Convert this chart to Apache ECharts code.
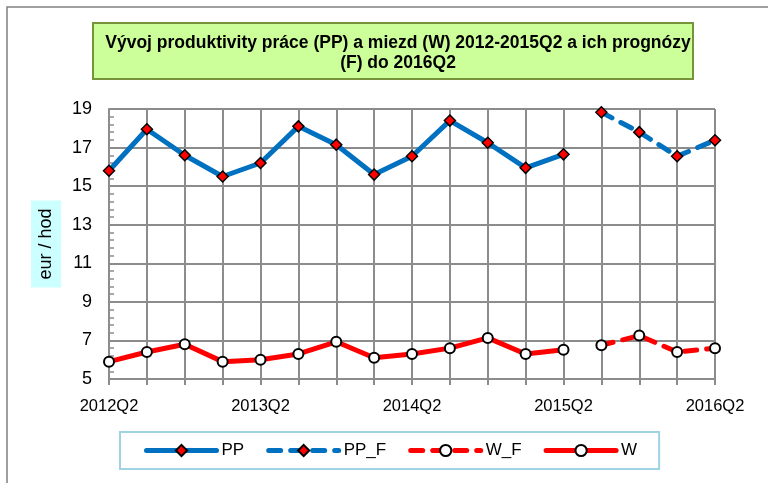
<!DOCTYPE html>
<html>
<head>
<meta charset="utf-8">
<script src="https://cdn.jsdelivr.net/npm/echarts@6/dist/echarts.min.js"></script>
<style>
html,body{margin:0;padding:0;background:#fff;}
#c{width:768px;height:483px;}
</style>
</head>
<body>
<div id="c"></div>
<script>
const categories = ['2012Q2','2012Q3','2012Q4','2013Q1','2013Q2','2013Q3','2013Q4','2014Q1','2014Q2','2014Q3','2014Q4','2015Q1','2015Q2','2015Q3','2015Q4','2016Q1','2016Q2'];
const ppValues  = [15.8, 17.95, 16.6, 15.5, 16.2, 18.1, 17.15, 15.6, 16.55, 18.4, 17.25, 15.95, 16.65, null, null, null, null];
const ppFValues = [null, null, null, null, null, null, null, null, null, null, null, null, null, 18.83, 17.8, 16.55, 17.38];
const wValues   = [5.9, 6.4, 6.8, 5.9, 6.0, 6.3, 6.93, 6.1, 6.3, 6.6, 7.13, 6.3, 6.52, null, null, null, null];
const wFValues  = [null, null, null, null, null, null, null, null, null, null, null, null, null, 6.75, 7.25, 6.4, 6.6];
const yTicks = [5, 7, 9, 11, 13, 15, 17, 19];
const titleLines = ['Vývoj produktivity práce (PP) a miezd (W) 2012-2015Q2 a ich prognózy', '(F) do 2016Q2'];
const yAxisName = 'eur / hod';

const chart = echarts.init(document.getElementById('c'), null, {renderer: 'canvas'});
const font = 'Liberation Sans';
const gridColor = '#8c8c8c';
const blue = '#0070C0';
const red = '#FF0000';

function lineSeries(name, data, color, dashed, symbol) {
  return {
    name: name,
    type: 'line',
    data: data,
    connectNulls: false,
    symbol: symbol,
    symbolSize: symbol === 'circle' ? 10 : 11,
    showAllSymbol: true,
    lineStyle: {color: color, width: 5, type: dashed ? [12, 10] : 'solid', cap: 'round', join: 'round'},
    itemStyle: {
      color: symbol === 'circle' ? '#ffffff' : '#ff0000',
      borderColor: '#000000',
      borderWidth: symbol === 'circle' ? 2 : 1.5
    },
    emphasis: {disabled: true},
    animation: false
  };
}

const option = {
  backgroundColor: '#ffffff',
  animation: false,
  graphic: [
    {type: 'rect', shape: {x: 7, y: 7, width: 800, height: 520}, style: {fill: 'none', stroke: '#808080', lineWidth: 1.5}, z: -10},
    {type: 'rect', shape: {x: 93, y: 23, width: 600, height: 56}, style: {fill: '#CCFF99', stroke: '#77933C', lineWidth: 2}, z: -5}
  ],
  title: {
    text: titleLines.join('\n'),
    left: 393,
    top: 28,
    textAlign: 'center',
    textStyle: {fontFamily: font, fontWeight: 'bold', fontSize: 17.5, lineHeight: 20, color: '#000', align: 'center'}
  },
  grid: {left: 109, right: 53, top: 109, bottom: 104, containLabel: false},
  xAxis: {
    type: 'category',
    data: categories,
    boundaryGap: false,
    axisLine: {show: true, lineStyle: {color: gridColor, width: 2}},
    axisTick: {show: true, interval: 0, length: 6, lineStyle: {color: gridColor, width: 2}},
    axisLabel: {interval: 3, fontFamily: font, fontSize: 16.5, color: '#000', margin: 19},
    splitLine: {show: true, interval: 0, lineStyle: {color: gridColor, width: 2}}
  },
  yAxis: {
    type: 'value',
    min: yTicks[0],
    max: yTicks[yTicks.length - 1],
    interval: 2,
    name: yAxisName,
    nameLocation: 'middle',
    nameRotate: 90,
    nameGap: 41,
    nameTextStyle: {fontFamily: font, fontSize: 18, color: '#000', backgroundColor: '#CCFFFF', padding: [6, 8, 6, 8]},
    axisLine: {show: true, lineStyle: {color: gridColor, width: 2}},
    axisTick: {show: true, inside: true, length: 5, lineStyle: {color: gridColor, width: 1.5}},
    minorTick: {show: true, splitNumber: 5, length: 5, lineStyle: {color: gridColor, width: 1.5}},
    axisLabel: {fontFamily: font, fontSize: 18, color: '#000', margin: 17},
    splitLine: {show: true, lineStyle: {color: gridColor, width: 2}}
  },
  legend: {
    left: 120,
    top: 432,
    padding: [10, 22, 10, 24],
    itemWidth: 70,
    itemHeight: 14,
    itemGap: 22,
    borderColor: '#9FD3E4',
    borderWidth: 2,
    lineStyle: {width: 5},
    textStyle: {fontFamily: font, fontSize: 17, color: '#000'},
    data: ['PP', 'PP_F', 'W_F', 'W']
  },
  series: [
    lineSeries('PP', ppValues, blue, false, 'diamond'),
    lineSeries('PP_F', ppFValues, blue, true, 'diamond'),
    lineSeries('W_F', wFValues, red, true, 'circle'),
    lineSeries('W', wValues, red, false, 'circle')
  ]
};
chart.setOption(option);
</script>
</body>
</html>
